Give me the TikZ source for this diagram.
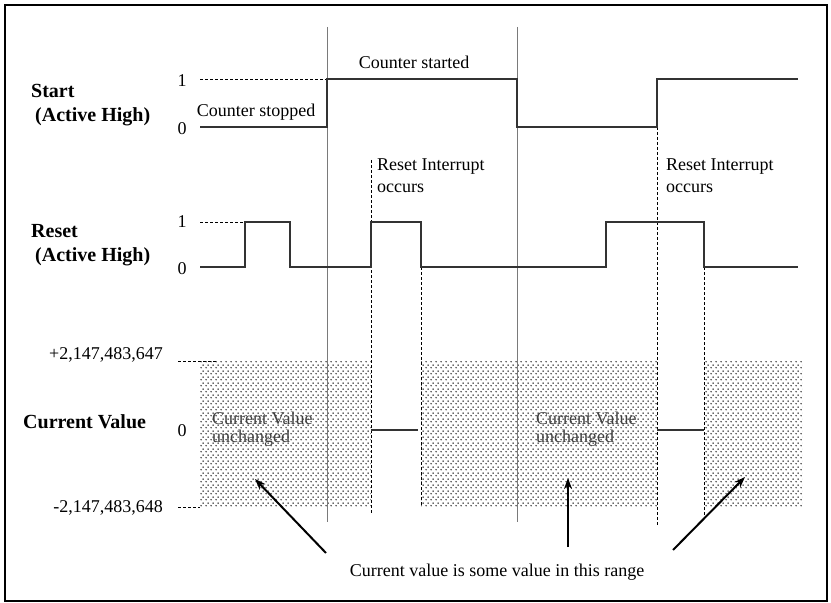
\documentclass[tikz,border=0pt]{standalone}
\usepackage{fontspec}
\setmainfont{Liberation Serif}
\usetikzlibrary{arrows.meta, patterns}
\definecolor{wavegray} {HTML}{333333}
\definecolor{rulegray} {HTML}{7A7A7A}
\definecolor{dotgray}  {HTML}{333333}
\pgfdeclarepatternformonly{cvdots}{\pgfqpoint{0bp}{0bp}}{\pgfqpoint{5bp}{6bp}}{\pgfqpoint{5bp}{6bp}}{%
  \pgfpathcircle{\pgfqpoint{1.25bp}{1.5bp}}{0.95bp}%
  \pgfpathcircle{\pgfqpoint{3.75bp}{4.5bp}}{0.95bp}%
  \pgfusepath{fill}}

\begin{document}
\begin{tikzpicture}[x=1bp, y=-1bp,
    txt/.style={font=\fontsize{18bp}{22bp}\selectfont, inner sep=0pt, align=left},
    hdr/.style={font=\fontsize{20bp}{24bp}\selectfont\bfseries, inner sep=0pt, align=left},
    wave/.style={draw=wavegray, line width=1.5bp},
    lvl/.style={draw=black, dash pattern=on 3bp off 2bp, line width=0.8bp},
    evt/.style={draw=black, dash pattern=on 3bp off 2bp, line width=0.9bp},
    phaseline/.style={draw=rulegray, line width=1bp},
    cvrange/.style={pattern=cvdots, pattern color=dotgray},
    ptr/.style={-{Stealth[length=11bp,width=8bp]}, line width=2bp}]
  \useasboundingbox (0,0) rectangle (831,603);
  \draw[line width=2bp] (5,5) rectangle (827,601);

  % value ranges
  \fill[cvrange] (200,361) rectangle (371,507);
  \fill[cvrange] (421,361) rectangle (657,507);
  \fill[cvrange] (704,361) rectangle (802,507);

  % phase and event lines
  \draw[phaseline] (327,27) -- (327,522);
  \draw[phaseline] (517,27) -- (517,522);
  \draw[evt] (371,160) -- (371,515);
  \draw[evt] (421,267) -- (421,507);
  \draw[evt] (657,127) -- (657,525);
  \draw[evt] (704,267) -- (704,517);

  % Start
  \node[hdr, anchor=west] (starthdr) at (31,105) {Start\\\hspace*{4bp}(Active High)};
  \node[txt] (start1) at (182,81) {1};
  \node[txt] (start0) at (182,129) {0};
  \draw[lvl] (200,79) -- (340,79);
  \draw[wave] (200,127) -- (327,127) -- (327,79) -- (517,79) -- (517,127)
    -- (657,127) -- (657,79) -- (798,79);
  \node[txt] (stopped) at (256,112) {Counter stopped};
  \node[txt] (started) at (414,62) {Counter started};

  % Reset
  \node[hdr, anchor=west] (resethdr) at (31,245) {Reset\\\hspace*{4bp}(Active High)};
  \node[txt] (reset1) at (182,222) {1};
  \node[txt] (reset0) at (182,269) {0};
  \draw[lvl] (200,222) -- (253,222);
  \draw[wave] (200,267) -- (245,267) -- (245,222) -- (290,222) -- (290,267)
    -- (371,267) -- (371,222) -- (421,222) -- (421,267) -- (606,267)
    -- (606,222) -- (704,222) -- (704,267) -- (798,267);
  \node[txt, anchor=west] (irqA) at (377,176) {Reset Interrupt\\occurs};
  \node[txt, anchor=west] (irqB) at (666,176) {Reset Interrupt\\occurs};

  % Current Value
  \node[hdr, anchor=west] (cvhdr) at (23,422) {Current Value};
  \node[txt, anchor=east] (cvmax) at (163,355) {+2,147,483,647};
  \node[txt] (cv0) at (182,431) {0};
  \node[txt, anchor=east] (cvmin) at (163,508) {-2,147,483,648};
  \draw[lvl] (178,361) -- (218,361);
  \draw[lvl] (178,507) -- (200,507);
  \draw[wave] (371,430) -- (418,430);
  \draw[wave] (657,430) -- (704,430);
  \node[txt, anchor=west, text=black!75, font=\fontsize{18bp}{18bp}\selectfont] (keepA) at (212,429) {Current Value\\unchanged};
  \node[txt, anchor=west, text=black!75, font=\fontsize{18bp}{18bp}\selectfont] (keepB) at (536,429) {Current Value\\unchanged};

  % pointers to the ranges
  \node[txt] (note) at (497,572) {Current value is some value in this range};
  \coordinate (tailA) at (326,553);
  \coordinate (tailB) at (568,547);
  \coordinate (tailC) at (673,550);
  \coordinate (tipA) at (255,479);
  \coordinate (tipB) at (568,478);
  \coordinate (tipC) at (745,477);
  \draw[ptr] (tailA) -- (tipA);
  \draw[ptr] (tailB) -- (tipB);
  \draw[ptr] (tailC) -- (tipC);
\end{tikzpicture}
\end{document}
